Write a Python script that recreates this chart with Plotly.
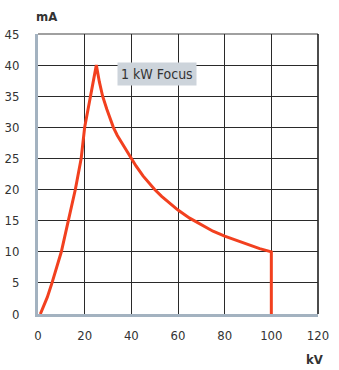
import plotly.graph_objects as go

# Tube current limit (mA) versus tube voltage (kV) for the 1 kW focus
kv = [1, 2.5, 4, 6, 8, 10, 13, 16, 18.5, 20, 22.5, 25,
      26.3, 27.7, 29.5, 32.3, 34, 37, 40, 42, 45, 47, 50, 53, 56, 60,
      65, 70, 75, 80, 85, 90, 95, 100, 100]
ma = [0, 1.3, 2.7, 5, 7.5, 10, 15, 20, 25, 30, 35, 40,
      37.3, 35, 32.9, 30, 28.7, 26.8, 25, 23.8, 22.2, 21.3, 20, 18.9, 17.9, 16.7,
      15.4, 14.3, 13.3, 12.5, 11.8, 11.1, 10.5, 10, 0]

x_ticks = [0, 20, 40, 60, 80, 100, 120]
y_ticks = [0, 5, 10, 15, 20, 25, 30, 35, 40, 45]

FONT = "DejaVu Sans Condensed, Liberation Sans Narrow, Arial Narrow, sans-serif"
AXIS_BLUE = "#a3b2c0"
GRID = "#2a2a2a"

fig = go.Figure()
fig.add_trace(go.Scatter(
    x=kv, y=ma, mode="lines",
    line=dict(color="#f2401f", width=3),
    hoverinfo="skip", showlegend=False,
))

fig.update_layout(
    width=339, height=370,
    margin=dict(l=38, r=21, t=34, b=56),
    paper_bgcolor="white", plot_bgcolor="white",
    font=dict(family=FONT, size=13, color="#333333"),
    xaxis=dict(
        range=[0, 120], tickvals=x_ticks, ticktext=[str(v) for v in x_ticks],
        showgrid=True, gridcolor=GRID, gridwidth=1, zeroline=False,
        showline=True, linecolor=AXIS_BLUE, linewidth=3,
        ticks="", ticklabelstandoff=7, fixedrange=True, automargin=False,
    ),
    yaxis=dict(
        range=[0, 45], tickvals=y_ticks, ticktext=[str(v) for v in y_ticks],
        showgrid=True, gridcolor=GRID, gridwidth=1, zeroline=False,
        showline=True, linecolor=AXIS_BLUE, linewidth=3,
        ticks="", ticklabelstandoff=13, fixedrange=True, automargin=False,
    ),
    shapes=[
        # frame: grey top edge, black right edge
        dict(type="line", xref="paper", yref="paper", x0=0, x1=1, y0=1, y1=1,
             line=dict(color="#808080", width=1.5), layer="below"),
        dict(type="line", xref="paper", yref="paper", x0=1, x1=1, y0=0, y1=1,
             line=dict(color="#111111", width=1.5), layer="below"),
    ],
    annotations=[
        dict(text="<b>mA</b>", xref="paper", yref="paper", x=0.031, y=1.064,
             xanchor="center", yanchor="middle", showarrow=False,
             font=dict(size=13, color="#333333")),
        dict(text="<b>kV</b>", xref="paper", yref="paper", x=0.989, y=-0.161,
             xanchor="center", yanchor="middle", showarrow=False,
             font=dict(size=13, color="#333333")),
        dict(text="1 kW Focus", x=50.8, y=38.6, showarrow=False,
             bgcolor="#cdd4db", borderpad=3,
             font=dict(size=14, color="#333333")),
    ],
)

fig.write_html("out.html")
